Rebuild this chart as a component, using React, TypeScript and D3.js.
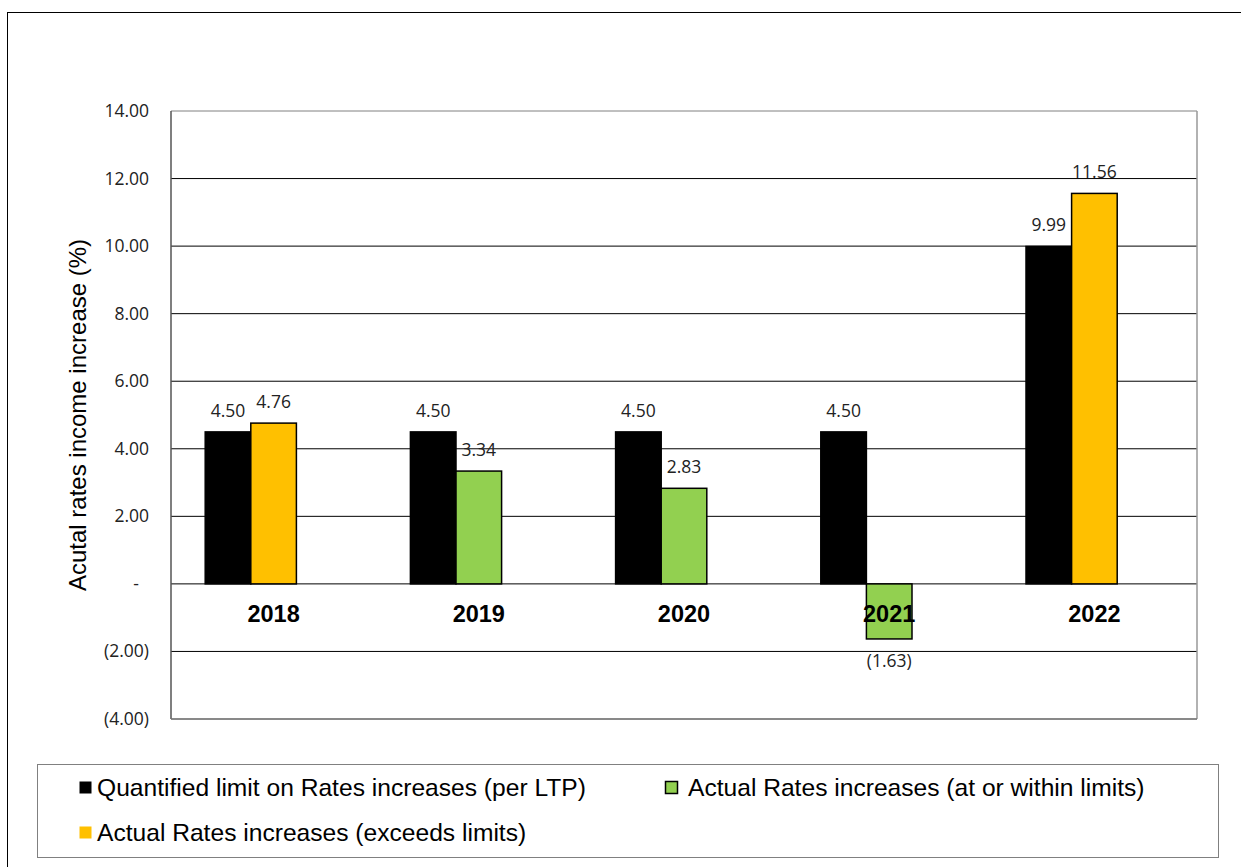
import React from "react";
import * as d3 from "d3";

const years = ["2018", "2019", "2020", "2021", "2022"];
const limitValues = [4.5, 4.5, 4.5, 4.5, 9.99];
const actualValues = [4.76, 3.34, 2.83, -1.63, 11.56];
const yTicks = [-4, -2, 0, 2, 4, 6, 8, 10, 12, 14];
const legendLabels = [
  "Quantified limit on Rates increases (per LTP)",
  "Actual Rates increases (at or within limits)",
  "Actual Rates increases (exceeds limits)",
];
const yTitle = "Acutal rates income increase (%)";

const W = 1241;
const H = 867;
const plot = { left: 171, top: 111, right: 1197, bottom: 719 };
const BLACK = "#000000";
const GREEN = "#92D050";
const YELLOW = "#FFC000";

const fmt = (v: number) => {
  if (Math.abs(v) < 1e-9) return "-";
  const s = d3.format(",.2f")(Math.abs(v));
  return v < 0 ? `(${s})` : s;
};

export default function App() {
  const x = d3.scaleBand<string>().domain(years).range([plot.left, plot.right]).paddingInner(0).paddingOuter(0);
  const slots = d3.scaleBand<number>().domain([0, 1, 2]).range([0, x.bandwidth()]).paddingOuter(0.75).paddingInner(0);
  const y = d3.scaleLinear().domain([-4, 14]).range([plot.bottom, plot.top]);
  const y0 = y(0);
  const labelFont = "'Open Sans', 'Noto Sans', sans-serif";
  const arial = "'Liberation Sans', Arial, sans-serif";

  const bars: { key: string; x: number; w: number; v: number; fill: string }[] = [];
  years.forEach((yr, i) => {
    bars.push({ key: yr + "-l", x: x(yr)! + slots(0)!, w: slots.bandwidth(), v: limitValues[i], fill: BLACK });
    const a = actualValues[i];
    bars.push({
      key: yr + "-a",
      x: x(yr)! + slots(1)!,
      w: slots.bandwidth(),
      v: a,
      fill: a > limitValues[i] ? YELLOW : GREEN,
    });
  });

  return (
    <svg width={W} height={H} style={{ position: "absolute", left: 0, top: 0, background: "#fff" }}>
      <rect x={7.5} y={12.5} width={1300} height={1000} fill="#fff" stroke="#000" strokeWidth={1} />
      {/* gridlines */}
      {yTicks.map((t) => (
        <line key={t} x1={plot.left} x2={plot.right} y1={y(t)} y2={y(t)} stroke={t === 14 || t === -4 ? "#808080" : "#000"} strokeWidth={1} />
      ))}
      <line x1={plot.left} x2={plot.left} y1={plot.top} y2={plot.bottom} stroke="#555" strokeWidth={1.5} />
      <line x1={plot.right} x2={plot.right} y1={plot.top} y2={plot.bottom} stroke="#999" strokeWidth={1.5} />
      <line x1={plot.left} x2={plot.right} y1={plot.bottom} y2={plot.bottom} stroke="#777" strokeWidth={1.5} />
      {/* y tick labels */}
      {yTicks.map((t) => (
        <text key={t} x={t === 0 ? 139 : 149} y={y(t) + 6} textAnchor="end" fontFamily={labelFont} fontSize={17.5} fill="#222">
          {fmt(t)}
        </text>
      ))}
      {/* bars */}
      {bars.map((b) => (
        <rect
          key={b.key}
          x={b.x}
          y={Math.min(y(b.v), y0)}
          width={b.w}
          height={Math.abs(y(b.v) - y0)}
          fill={b.fill}
          stroke="#000"
          strokeWidth={1.5}
        />
      ))}
      {/* category labels */}
      {years.map((yr) => (
        <text key={yr} x={x(yr)! + x.bandwidth() / 2} y={622} textAnchor="middle" fontFamily={arial} fontWeight="bold" fontSize={23.5} fill="#000">
          {yr}
        </text>
      ))}
      {/* data labels */}
      {bars.map((b) => (
        <text
          key={b.key + "-t"}
          x={b.x + b.w / 2}
          y={b.v >= 0 ? y(b.v) - 15 : y(b.v) + 28}
          textAnchor="middle"
          fontFamily={labelFont}
          fontSize={17.5}
          fill="#222"
        >
          {fmt(b.v)}
        </text>
      ))}
      {/* y title */}
      <text
        transform={`translate(86, ${(plot.top + plot.bottom) / 2}) rotate(-90)`}
        textAnchor="middle"
        fontFamily={arial}
        fontSize={24}
        fill="#000"
      >
        {yTitle}
      </text>
      {/* legend */}
      <rect x={37.5} y={764.5} width={1181} height={93} fill="#fff" stroke="#808080" strokeWidth={1} />
      {[
        { lx: 79, ly: 781, tx: 97, color: BLACK, label: legendLabels[0] },
        { lx: 665, ly: 781, tx: 688, color: GREEN, label: legendLabels[1] },
        { lx: 79, ly: 826, tx: 97, color: YELLOW, label: legendLabels[2] },
      ].map((l) => (
        <g key={l.label}>
          <rect
            x={l.lx + 0.5}
            y={l.ly + 0.5}
            width={12}
            height={12}
            fill={l.color}
            stroke={l.color === GREEN ? "#000" : "none"}
            strokeWidth={1.5}
          />
          <text x={l.tx} y={l.ly + 15} fontFamily={arial} fontSize={24.6} fill="#000">
            {l.label}
          </text>
        </g>
      ))}
    </svg>
  );
}
